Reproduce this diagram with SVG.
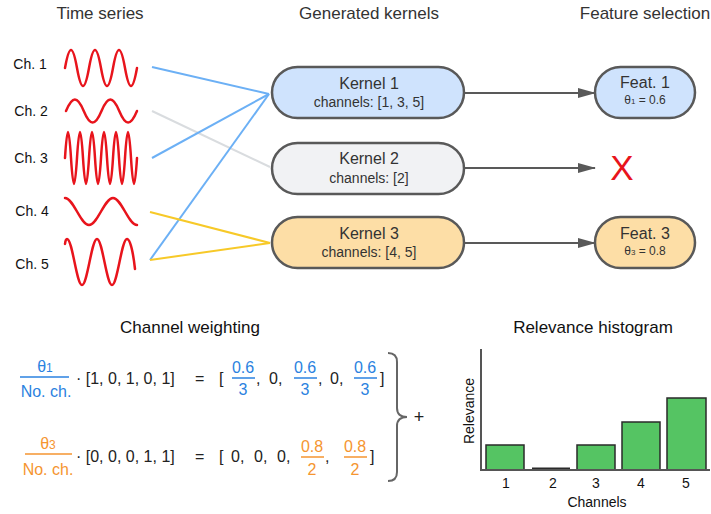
<svg xmlns="http://www.w3.org/2000/svg" width="711" height="514" viewBox="0 0 711 514">
<defs>
<style>
text{font-family:"Liberation Sans",Arial,sans-serif;}
.hdr{font-size:17px;fill:#333;text-anchor:middle;}
.ch{font-size:14px;fill:#111;text-anchor:middle;}
.wave{fill:none;stroke:#e8141c;stroke-width:2.5;stroke-linecap:round;}
.node{stroke:#595959;stroke-width:2.5;}
.t1{font-size:16px;fill:#333;text-anchor:middle;}
.t2{font-size:14px;fill:#333;text-anchor:middle;}
.t3{font-size:12px;fill:#333;text-anchor:middle;}
.arr{stroke:#595959;stroke-width:2;fill:none;marker-end:url(#ah);}
.f{font-size:16px;fill:#222;}
.fc{font-size:16px;text-anchor:middle;}
.b{fill:#2b82e0;}
.o{fill:#f59530;}
.bl{stroke:#2b82e0;stroke-width:1.5;}
.ol{stroke:#f59530;stroke-width:1.5;}
.bar{fill:#55c463;stroke:#2a2a2a;stroke-width:1.5;}
</style>
<marker id="ah" viewBox="0 0 18 10" refX="17" refY="5" markerWidth="18" markerHeight="10" markerUnits="userSpaceOnUse" orient="auto">
<path d="M0,0 L18,5 L0,10 z" fill="#595959"/>
</marker>
</defs>
<rect width="711" height="514" fill="#fff"/>

<g id="headers">
<text class="hdr" x="100" y="19">Time series</text>
<text class="hdr" x="369" y="19">Generated kernels</text>
<text class="hdr" x="645" y="19">Feature selection</text>
</g>

<g id="channels">
<text class="ch" x="30" y="69">Ch. 1</text>
<text class="ch" x="31" y="116">Ch. 2</text>
<text class="ch" x="31" y="163">Ch. 3</text>
<text class="ch" x="32" y="216">Ch. 4</text>
<text class="ch" x="32" y="269">Ch. 5</text>
<path class="wave" d="M65,68 c4.32,-24 7.68,-24 12,0 s7.68,24 12,0 s7.68,-24 12,0 s7.68,24 12,0 s7.68,-24 12,0 s7.68,24 12,0"/>
<path class="wave" d="M66,111 c6.4,-15.3 11.4,-15.3 17.75,0 s11.4,15.3 17.75,0 s11.4,-15.3 17.75,0 s11.4,15.3 17.75,0"/>
<path class="wave" d="M65,158 c2.16,-34.7 3.84,-34.7 6,0 s3.84,34.7 6,0 s3.84,-34.7 6,0 s3.84,34.7 6,0 s3.84,-34.7 6,0 s3.84,34.7 6,0 s3.84,-34.7 6,0 s3.84,34.7 6,0 s3.84,-34.7 6,0 s3.84,34.7 6,0 s3.84,-34.7 6,0 s3.84,34.7 6,0"/>
<path class="wave" d="M65,198 c8.64,0 15.36,27 24,27 s15.36,-27 24,-27 s15.36,27 24,27"/>
<path class="wave" d="M65,244 Q65.5,239 67,239 c5.4,0 9.6,46 15,46 s9.6,-46 15,-46 s9.6,46 15,46 s9.6,-46 15,-46 c3,0 6,12 8,30"/>
</g>

<g id="connectors">
<line x1="152" y1="111" x2="270" y2="167" stroke="#d9dcdf" stroke-width="2"/>
<line x1="152" y1="67" x2="269" y2="94" stroke="#6cb0f5" stroke-width="2"/>
<line x1="152" y1="158" x2="269" y2="94" stroke="#6cb0f5" stroke-width="2"/>
<line x1="150" y1="260" x2="269" y2="94" stroke="#6cb0f5" stroke-width="2"/>
<line x1="150" y1="212" x2="270" y2="243" stroke="#f7c928" stroke-width="2"/>
<line x1="150" y1="260" x2="270" y2="243" stroke="#f7c928" stroke-width="2"/>
<line class="arr" x1="464" y1="93" x2="595" y2="93"/>
<line class="arr" x1="464" y1="168" x2="595" y2="168"/>
<line class="arr" x1="464" y1="243" x2="595" y2="243"/>
</g>

<g id="kernel1">
<rect class="node" x="272" y="67" width="192" height="51" rx="25.5" fill="#cfe3fd"/>
<text class="t1" x="369" y="89">Kernel 1</text>
<text class="t2" x="369" y="107">channels: [1, 3, 5]</text>
</g>
<g id="kernel2">
<rect class="node" x="272" y="143" width="192" height="51" rx="25.5" fill="#f1f2f4"/>
<text class="t1" x="369" y="164">Kernel 2</text>
<text class="t2" x="369" y="183">channels: [2]</text>
</g>
<g id="kernel3">
<rect class="node" x="272" y="217" width="192" height="51" rx="25.5" fill="#fddea6"/>
<text class="t1" x="369" y="239">Kernel 3</text>
<text class="t2" x="369" y="257">channels: [4, 5]</text>
</g>
<g id="feat1">
<rect class="node" x="595" y="67" width="100" height="51" rx="25.5" fill="#cfe3fd"/>
<text class="t1" x="645" y="88">Feat. 1</text>
<text class="t3" x="645" y="104">θ<tspan font-size="8">1</tspan> = 0.6</text>
</g>
<g id="rejected">
<text x="622" y="180" font-size="35" fill="#e8141c" text-anchor="middle">X</text>
</g>
<g id="feat3">
<rect class="node" x="595" y="217" width="100" height="51" rx="25.5" fill="#fddea6"/>
<text class="t1" x="645" y="239">Feat. 3</text>
<text class="t3" x="645" y="255">θ<tspan font-size="8">3</tspan> = 0.8</text>
</g>

<g id="weighting">
<text x="190" y="333" font-size="17" fill="#111" text-anchor="middle">Channel weighting</text>
<text class="fc b" x="45" y="372">θ<tspan font-size="12">1</tspan></text>
<line class="bl" x1="20" y1="377" x2="69" y2="377"/>
<text class="fc b" x="46" y="397">No. ch.</text>
<text class="f" x="76" y="384">· [1, 0, 1, 0, 1]</text>
<text class="f" x="195" y="384">=</text>
<text class="f" x="219" y="384">[</text>
<text class="fc b" x="243" y="373">0.6</text>
<line class="bl" x1="232" y1="378" x2="255" y2="378"/>
<text class="fc b" x="243" y="395">3</text>
<text class="f" x="256" y="384">,</text>
<text class="f" x="269" y="384">0,</text>
<text class="fc b" x="305" y="373">0.6</text>
<line class="bl" x1="294" y1="378" x2="317" y2="378"/>
<text class="fc b" x="305" y="395">3</text>
<text class="f" x="318" y="384">,</text>
<text class="f" x="330" y="384">0,</text>
<text class="fc b" x="365" y="373">0.6</text>
<line class="bl" x1="354" y1="378" x2="377" y2="378"/>
<text class="fc b" x="365" y="395">3</text>
<text class="f" x="380" y="384">]</text>

<text class="fc o" x="48" y="449">θ<tspan font-size="12">3</tspan></text>
<line class="ol" x1="25" y1="454" x2="72" y2="454"/>
<text class="fc o" x="48" y="475">No. ch.</text>
<text class="f" x="76" y="462">· [0, 0, 0, 1, 1]</text>
<text class="f" x="195" y="462">=</text>
<text class="f" x="219" y="462">[</text>
<text class="f" x="231" y="462">0,</text>
<text class="f" x="254" y="462">0,</text>
<text class="f" x="277" y="462">0,</text>
<text class="fc o" x="312" y="452">0.8</text>
<line class="ol" x1="301" y1="457" x2="324" y2="457"/>
<text class="fc o" x="312" y="475">2</text>
<text class="f" x="325" y="462">,</text>
<text class="fc o" x="355" y="452">0.8</text>
<line class="ol" x1="344" y1="457" x2="367" y2="457"/>
<text class="fc o" x="355" y="475">2</text>
<text class="f" x="370" y="462">]</text>

<path d="M388,353 Q397,353 397,362 L397,408 Q397,417 407,417 Q397,417 397,426 L397,472 Q397,481 388,481" fill="none" stroke="#666" stroke-width="2"/>
<text x="419" y="423" font-size="18" fill="#222" text-anchor="middle">+</text>
</g>

<g id="histogram">
<text x="593" y="333" font-size="17" fill="#111" text-anchor="middle">Relevance histogram</text>
<rect class="bar" x="486" y="445" width="38" height="25"/>
<rect x="532" y="467.5" width="38" height="2" fill="#2a2a2a"/>
<rect class="bar" x="577" y="445" width="38" height="25"/>
<rect class="bar" x="622" y="422" width="38" height="48"/>
<rect class="bar" x="667" y="398" width="39" height="72"/>
<line x1="481" y1="349" x2="481" y2="471" stroke="#555" stroke-width="2"/>
<line x1="480" y1="470" x2="710" y2="470" stroke="#555" stroke-width="2"/>
<text class="ch" x="506" y="488">1</text>
<text class="ch" x="553" y="488">2</text>
<text class="ch" x="596" y="488">3</text>
<text class="ch" x="641" y="488">4</text>
<text class="ch" x="686" y="488">5</text>
<text class="ch" x="597" y="507">Channels</text>
<text class="ch" transform="translate(474,411) rotate(-90)" x="0" y="0">Relevance</text>
</g>
</svg>
